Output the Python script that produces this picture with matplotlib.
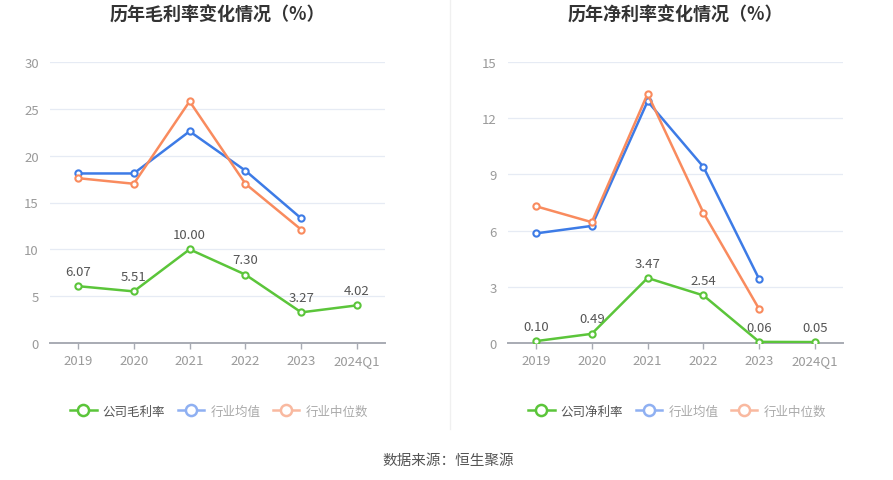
import matplotlib
matplotlib.use("Agg")
import matplotlib.pyplot as plt
from matplotlib.lines import Line2D

plt.rcParams['font.family'] = ['Noto Sans CJK SC', 'DejaVu Sans']

years = ['2019', '2020', '2021', '2022', '2023', '2024Q1']

# 毛利率
gross_company = [6.07, 5.51, 10.00, 7.30, 3.27, 4.02]
gross_avg = [18.1, 18.1, 22.6, 18.4, 13.3]
gross_median = [17.6, 17.0, 25.8, 17.0, 12.1]

# 净利率
net_company = [0.10, 0.49, 3.47, 2.54, 0.06, 0.05]
net_avg = [5.85, 6.25, 12.9, 9.4, 3.4]
net_median = [7.3, 6.45, 13.3, 6.95, 1.8]

green = '#5bc53a'
blue = '#3d7be6'
orange = '#f98b5e'

W, H = 893, 481
fig = plt.figure(figsize=(W / 100, H / 100), dpi=100)


def draw(left_px, company, avg, median, ymax, step, title, name):
    ax = fig.add_axes([left_px / W, (H - 344) / H, 335 / W, 281 / H])
    x = list(range(len(years)))
    kw = dict(lw=1.8, marker='o', ms=4.5, mfc='white', mew=1.5)
    ax.plot(x[:len(avg)], avg, color=blue, **kw, zorder=3)
    ax.plot(x[:len(median)], median, color=orange, **kw, zorder=3)
    ax.plot(x, company, color=green, **kw, zorder=4)
    for i, v in enumerate(company):
        ax.annotate('%.2f' % v, (i, v), xytext=(0, 6), textcoords='offset points',
                    ha='center', va='bottom', fontsize=9.5, color='#555555')
    ax.set_xlim(-0.5, len(years) - 0.5)
    ax.set_ylim(0, ymax)
    ax.set_yticks(range(0, ymax + 1, step))
    ax.set_xticks(x)
    ax.set_xticklabels(years)
    ax.grid(axis='y', color='#e6ebf4', lw=0.9)
    ax.set_axisbelow(True)
    for s in ['left', 'right', 'top']:
        ax.spines[s].set_visible(False)
    ax.spines['bottom'].set_color('#a8abb3')
    ax.spines['bottom'].set_linewidth(1.4)
    ax.tick_params(axis='y', length=0, pad=8, labelsize=9.5, labelcolor='#9a9a9a')
    ax.tick_params(axis='x', length=4, width=1, color='#a8abb3', pad=4,
                   labelsize=9.5, labelcolor='#9a9a9a')
    cx = (left_px + 167) / W
    fig.text(cx, 1 - 15 / H, title, ha='center', va='center', fontsize=13,
             fontweight='bold', color='#333333')

    handles = [
        Line2D([], [], color=green, lw=1.8, marker='o', ms=8, mfc='white', mew=1.8),
        Line2D([], [], color='#8fb0f2', lw=1.8, marker='o', ms=8, mfc='white', mew=1.8),
        Line2D([], [], color='#f9b9a0', lw=1.8, marker='o', ms=8, mfc='white', mew=1.8),
    ]
    leg = fig.legend(handles, [name, '行业均值', '行业中位数'], loc='center',
                     bbox_to_anchor=(cx + 2 / W, 1 - 412 / H), ncol=3, frameon=False,
                     fontsize=9, handlelength=2.1, handletextpad=0.5,
                     columnspacing=1.0)
    for t, c in zip(leg.get_texts(), ['#555555', '#aaaaaa', '#aaaaaa']):
        t.set_color(c)


draw(50, gross_company, gross_avg, gross_median, 30, 5, '历年毛利率变化情况（%）', '公司毛利率')
draw(508, net_company, net_avg, net_median, 15, 3, '历年净利率变化情况（%）', '公司净利率')

fig.add_artist(Line2D([450 / W, 450 / W], [1 - 430 / H, 1.0], color='#f0f0f0', lw=1))
fig.text(448 / W, 1 - 461 / H, '数据来源：恒生聚源', ha='center', va='center',
         fontsize=10.5, color='#555555')

fig.savefig('out.png', dpi=100, facecolor='white')
